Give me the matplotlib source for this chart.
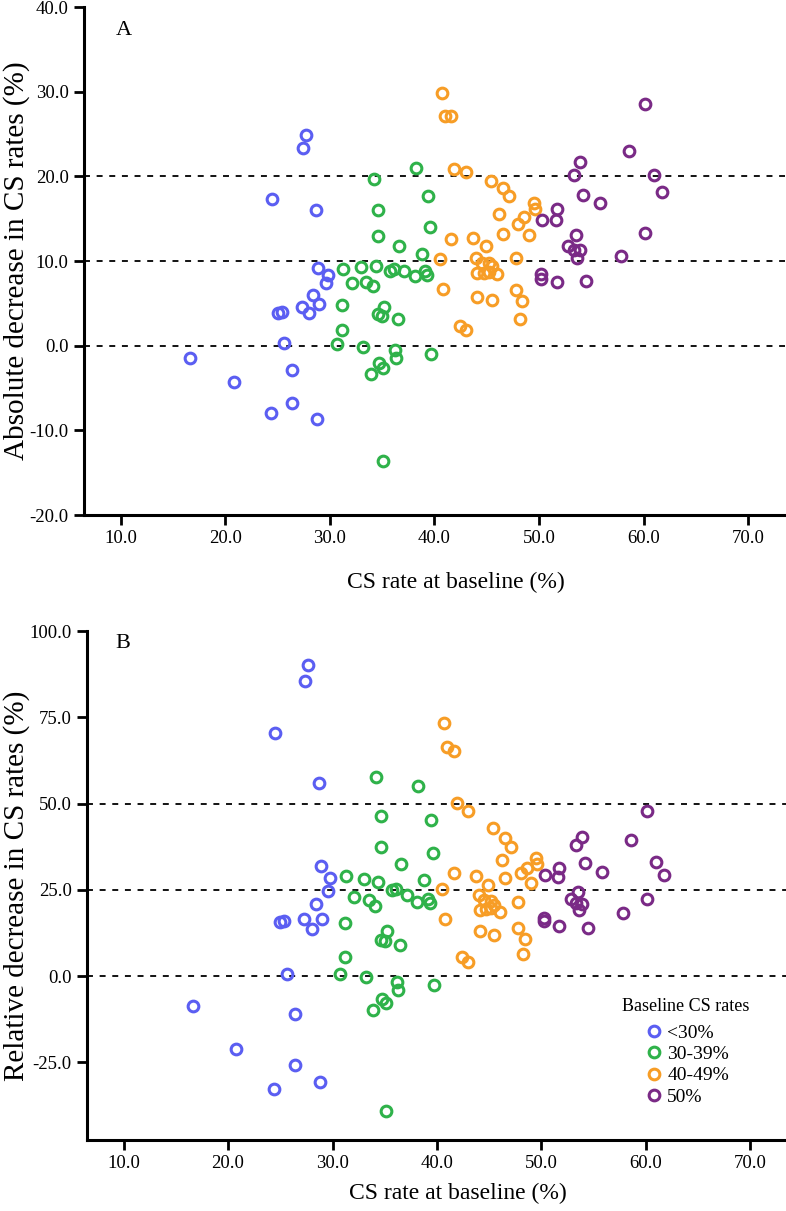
import matplotlib.pyplot as plt
from matplotlib.ticker import FormatStrFormatter

plt.rcParams['font.family'] = ['Liberation Serif', 'DejaVu Serif']
plt.rcParams['axes.unicode_minus'] = False

# baseline CS rate (%), absolute decrease (%), relative decrease (%) per group
base_lt30 = [27.7, 27.4, 24.5, 28.7, 28.9, 29.8, 29.6, 28.4, 27.3, 29.0, 28.0, 25.0, 25.4, 25.6, 16.6, 26.4, 20.8, 26.4, 24.4, 28.8]
abs_lt30 = [24.9, 23.4, 17.3, 16.0, 9.2, 8.4, 7.4, 6.0, 4.6, 4.9, 3.8, 3.9, 4.0, 0.3, -1.4, -2.9, -4.3, -6.8, -7.9, -8.7]
rel_lt30 = [90.1, 85.5, 70.5, 55.9, 31.8, 28.4, 24.8, 21.0, 16.4, 16.6, 13.5, 15.7, 16.0, 0.5, -8.7, -11.1, -21.2, -25.8, -32.8, -30.6]

base_30s = [38.2, 34.2, 34.6, 39.4, 34.6, 39.6, 36.6, 38.8, 31.3, 33.0, 34.4, 35.7, 36.1, 37.1, 38.1, 39.1, 39.3, 32.1,
            33.5, 34.1, 31.2, 35.2, 34.6, 35.0, 36.5, 31.2, 30.7, 33.2, 36.2, 36.3, 39.7, 34.7, 35.1, 33.9, 35.1]
abs_30s = [21.0, 19.7, 16.0, 17.7, 13.0, 14.0, 11.8, 10.8, 9.1, 9.3, 9.4, 8.8, 9.0, 8.8, 8.2, 8.8, 8.4, 7.4,
           7.5, 7.0, 4.8, 4.6, 3.7, 3.5, 3.2, 1.8, 0.2, -0.1, -0.5, -1.4, -1.0, -2.1, -2.6, -3.4, -13.6]
rel_30s = [55.1, 57.8, 46.4, 45.1, 37.5, 35.6, 32.5, 27.9, 29.0, 28.0, 27.2, 25.0, 25.3, 23.6, 21.6, 22.4, 21.2, 22.9,
           22.1, 20.4, 15.5, 13.1, 10.5, 10.1, 8.9, 5.6, 0.7, -0.3, -1.6, -3.9, -2.5, -6.6, -7.7, -9.9, -39.0]

base_40s = [40.7, 41.0, 41.6, 41.9, 43.0, 45.4, 46.5, 47.1, 49.5, 49.6, 46.2, 48.6, 48.0, 46.5, 49.0, 41.6, 43.7, 44.9,
            40.5, 44.0, 44.5, 45.2, 45.5, 44.1, 44.7, 45.2, 46.0, 47.8, 40.8, 47.8, 48.4, 44.1, 45.5, 48.2, 42.4, 43.0]
abs_40s = [29.8, 27.1, 27.1, 20.9, 20.5, 19.5, 18.6, 17.7, 16.9, 16.1, 15.6, 15.2, 14.4, 13.2, 13.1, 12.6, 12.7, 11.8,
           10.2, 10.4, 9.8, 9.8, 9.4, 8.6, 8.6, 8.7, 8.5, 10.3, 6.7, 6.6, 5.3, 5.8, 5.4, 3.1, 2.3, 1.8]
rel_40s = [73.2, 66.4, 65.2, 50.1, 47.7, 42.9, 40.0, 37.5, 34.2, 32.4, 33.7, 31.3, 30.0, 28.4, 27.0, 30.0, 28.9, 26.3,
           25.2, 23.6, 22.1, 21.8, 20.7, 19.2, 19.5, 19.7, 18.5, 21.5, 16.6, 13.8, 10.8, 13.0, 12.0, 6.4, 5.5, 4.1]

base_50 = [60.1, 58.6, 53.9, 53.3, 61.0, 61.7, 54.2, 55.8, 51.7, 50.3, 51.6, 53.5, 60.1, 52.8, 53.3, 53.9, 53.6, 57.8,
           50.2, 50.2, 51.7, 54.5]
abs_50 = [28.6, 23.0, 21.7, 20.2, 20.2, 18.1, 17.8, 16.9, 16.1, 14.8, 14.8, 13.1, 13.3, 11.8, 11.3, 11.3, 10.3, 10.6,
          8.5, 7.9, 7.5, 7.6]
rel_50 = [47.7, 39.3, 40.4, 38.0, 33.0, 29.4, 32.7, 30.3, 31.3, 29.4, 28.7, 24.5, 22.3, 22.3, 21.2, 21.0, 19.2, 18.3,
          16.8, 15.9, 14.4, 14.0]

group_labels = ['<30%', '30-39%', '40-49%', '50%']
group_colors = ['#5b5ef2', '#2fb24a', '#f79d26', '#7a2a86']

groups = [
    (base_lt30, abs_lt30, rel_lt30),
    (base_30s, abs_30s, rel_30s),
    (base_40s, abs_40s, rel_40s),
    (base_50, abs_50, rel_50),
]

fig = plt.figure(figsize=(7.86, 12.11), dpi=100)
ax_a = fig.add_axes([84 / 786, 696 / 1211, 701 / 786, 508 / 1211])
ax_b = fig.add_axes([87 / 786, 71 / 1211, 700 / 786, 509 / 1211])


def style_axis(ax):
    for side in ['top', 'right']:
        ax.spines[side].set_visible(False)
    for side in ['left', 'bottom']:
        ax.spines[side].set_linewidth(2.2)
    ax.tick_params(direction='out', length=7, width=2.0, labelsize=13.5, pad=4)
    ax.set_xlim(6.5, 73.5)
    ax.set_xticks([10, 20, 30, 40, 50, 60, 70])
    ax.xaxis.set_major_formatter(FormatStrFormatter('%.1f'))
    ax.yaxis.set_major_formatter(FormatStrFormatter('%.1f'))


for ax, col, hlines in [(ax_a, 1, [0, 10, 20]), (ax_b, 2, [0, 25, 50])]:
    for h in hlines:
        ax.axhline(h, color='black', lw=1.3, dashes=(3.3, 3.7), zorder=1)
    for (vals, label, color) in zip(groups, group_labels, group_colors):
        ax.plot(vals[0], vals[col], linestyle='none', marker='o', markersize=7.7,
                markerfacecolor='none', markeredgecolor=color, markeredgewidth=2.2,
                label=label, zorder=3)
    style_axis(ax)

ax_a.set_ylim(-20, 40)
ax_a.set_yticks([-20, -10, 0, 10, 20, 30, 40])
ax_a.set_xlabel('CS rate at baseline (%)', fontsize=17)
ax_a.set_ylabel('Absolute decrease in CS rates (%)', fontsize=21)
ax_a.xaxis.set_label_coords(0.53, -0.112)
ax_a.yaxis.set_label_coords(-0.077, 0.5)
ax_a.text(0.046, 0.953, 'A', transform=ax_a.transAxes, fontsize=16, va='center')

ax_b.set_ylim(-47.5, 100)
ax_b.set_yticks([-25, 0, 25, 50, 75, 100])
ax_b.set_xlabel('CS rate at baseline (%)', fontsize=17)
ax_b.set_ylabel('Relative decrease in CS rates (%)', fontsize=21)
ax_b.xaxis.set_label_coords(0.53, -0.085)
ax_b.yaxis.set_label_coords(-0.081, 0.5)
ax_b.text(0.041, 0.976, 'B', transform=ax_b.transAxes, fontsize=16, va='center')

leg = ax_b.legend(title='Baseline CS rates', loc='upper center', bbox_to_anchor=(0.855, 0.306),
                  frameon=False, fontsize=14, title_fontsize=13, handletextpad=0.1,
                  labelspacing=0.18, handlelength=1.2, borderpad=0.2)
leg._legend_box.sep = 7

plt.savefig('out.png', dpi=100)
